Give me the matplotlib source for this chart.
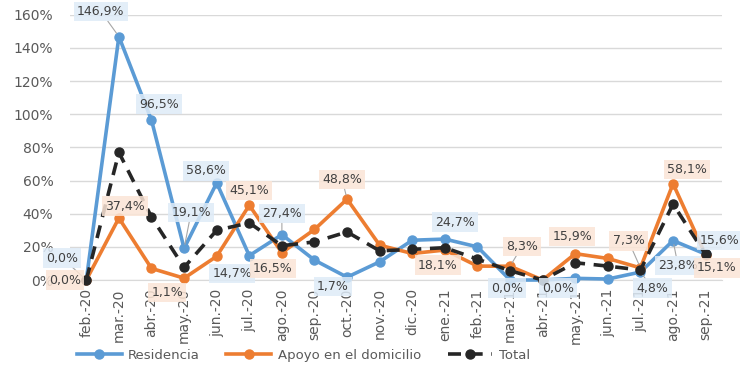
import matplotlib.pyplot as plt
from matplotlib.ticker import FuncFormatter

months = ["feb.-20", "mar.-20", "abr.-20", "may.-20", "jun.-20", "jul.-20", "ago.-20",
          "sep.-20", "oct.-20", "nov.-20", "dic.-20", "ene.-21", "feb.-21", "mar.-21",
          "abr.-21", "may.-21", "jun.-21", "jul.-21", "ago.-21", "sep.-21"]

residencia = [0.0, 146.9, 96.5, 19.1, 58.6, 14.7, 27.4, 12.0, 1.7, 11.0,
              24.0, 24.7, 20.0, 0.0, 0.0, 1.0, 0.6, 4.8, 23.8, 15.6]
apoyo = [0.0, 37.4, 7.0, 1.1, 14.3, 45.1, 16.5, 30.5, 48.8, 21.0,
         16.0, 18.1, 8.4, 8.3, 0.0, 15.9, 13.0, 7.3, 58.1, 15.1]
total = [0.0, 77.0, 38.0, 7.6, 30.0, 34.5, 20.7, 23.0, 29.0, 17.6,
         18.5, 19.5, 12.6, 5.6, 0.0, 10.4, 8.4, 6.0, 45.8, 15.4]

# labelled points: index -> (dx, dy) offset in pixels, leader line or not
res_labels = {0: (-24, 22, True), 1: (-18, 25, True), 2: (8, 16, False), 3: (7, 36, True),
              4: (-11, 12, False), 5: (-17, -18, False), 6: (0, 21, True), 8: (-14, -9, False),
              11: (10, 17, False), 13: (-3, -8, False), 14: (15, -8, False),
              17: (12, -16, True), 18: (5, -25, True), 19: (14, 14, False)}
apo_labels = {0: (-21, 0, False), 1: (6, 12, False), 3: (-17, -14, False), 5: (0, 15, False),
              6: (-9, -16, False), 8: (-5, 20, True), 11: (-7, -15, False), 13: (12, 20, True),
              15: (-3, 17, False), 17: (-12, 27, True), 18: (14, 14, False), 19: (11, -13, False)}

BLUE = "#5B9BD5"
ORANGE = "#ED7D31"
BLACK = "#262626"

plt.rcParams['font.family'] = ['DejaVu Sans']
fig = plt.figure(figsize=(7.4, 3.74), dpi=100)
ax = fig.add_axes([0.0946, 0.2513, 0.881, 0.709])
x = list(range(len(months)))

ax.plot(x, residencia, color=BLUE, lw=2.6, marker='o', ms=6.5, label="Residencia",
        clip_on=False, zorder=3)
ax.plot(x, apoyo, color=ORANGE, lw=2.6, marker='o', ms=6.5, label="Apoyo en el domicilio",
        clip_on=False, zorder=4)
ax.plot(x, total, color=BLACK, lw=2.6, marker='o', ms=6.5, label="Total",
        dashes=(3.6, 2.4), clip_on=False, zorder=5)


def add_labels(values, labels, face):
    for i, (dx, dy, leader) in labels.items():
        txt = ("%.1f%%" % values[i]).replace(".", ",")
        ax.annotate(txt, (i, values[i]), xytext=(dx, dy), textcoords='offset pixels',
                    ha='center', va='center', fontsize=9, color="#404040", zorder=6,
                    bbox=dict(boxstyle='square,pad=0.25', fc=face, ec='none', alpha=0.85),
                    arrowprops=dict(arrowstyle='-', color='#A6A6A6', lw=0.8,
                                    shrinkA=0, shrinkB=3) if leader else None,
                    annotation_clip=False)


add_labels(residencia, res_labels, "#DEEBF7")
add_labels(apoyo, apo_labels, "#FBE5D6")

ax.set_xlim(-0.5, len(months) - 0.5)
ax.set_ylim(0, 160)
ax.set_yticks(range(0, 161, 20))
ax.yaxis.set_major_formatter(FuncFormatter(lambda v, p: "%d%%" % v))
ax.set_xticks(x)
ax.set_xticklabels(months, rotation=90)
ax.tick_params(axis='both', length=0, labelsize=10, colors="#595959")
ax.tick_params(axis='x', pad=6)
ax.tick_params(axis='y', pad=12)
ax.grid(True, axis='y', color='#D9D9D9', lw=1)
ax.set_axisbelow(True)
for side in ['top', 'right', 'left']:
    ax.spines[side].set_visible(False)
ax.spines['bottom'].set_color('#D9D9D9')

fig.legend(loc='center', bbox_to_anchor=(0.41, 0.05), ncol=3, frameon=False,
           fontsize=9.5, labelcolor="#595959", handlelength=3.4, handletextpad=0.5,
           columnspacing=2.0)

fig.savefig("out.png", dpi=100)
